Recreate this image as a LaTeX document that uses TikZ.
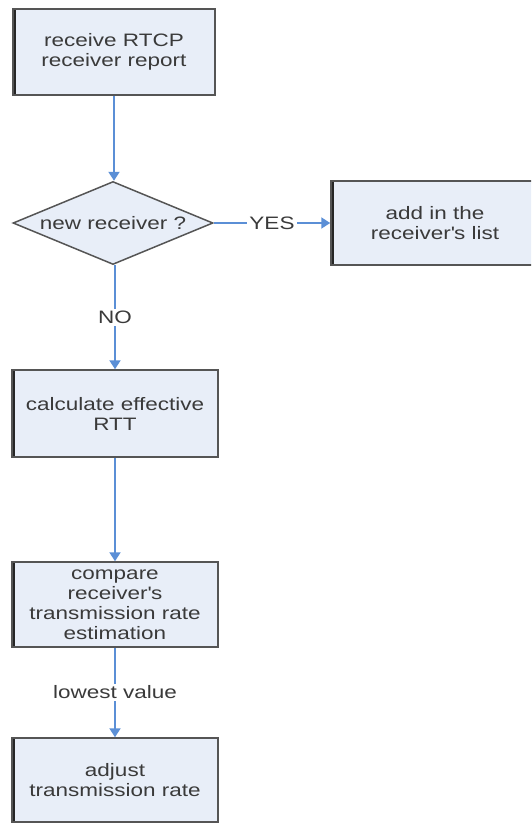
\documentclass[tikz,border=0pt]{standalone}
\usepackage{fontspec}
\setmainfont{Liberation Sans}[FakeStretch=1.25]
\usetikzlibrary{shapes.geometric,arrows.meta}
\definecolor{boxfill}{HTML}{E8EEF8}
\definecolor{boxline}{HTML}{555555}
\definecolor{arrowblue}{HTML}{5B8FD6}
\definecolor{txt}{HTML}{3A3A3A}
\tikzset{
  every node/.style={text=txt, font=\fontsize{18}{20}\selectfont},
  procbox/.style={draw=boxline, line width=1.5pt, fill=boxfill, align=center,
    inner sep=0pt,
    path picture={\draw[line width=5pt, black!85] (path picture bounding box.north west) -- (path picture bounding box.south west);}},
  decision/.style={draw=boxline, line width=1.5pt, fill=boxfill, diamond, inner sep=0pt},
  flow/.style={draw=arrowblue, line width=2pt, -{Triangle[width=11pt,length=9pt]}},
  flowlabel/.style={fill=white, inner sep=2pt}
}
\begin{document}
\begin{tikzpicture}[x=1pt, y=-1pt]
\useasboundingbox (0,0) rectangle (531,823);
\clip (0,0) rectangle (531,823);
\node[procbox, minimum width=202pt, minimum height=86pt] (b1) at (114,52) {receive RTCP\\receiver report};
\node[decision, minimum width=200pt, minimum height=83pt] (d) at (113,223) {};
\node (dt) at (d.center) {new receiver ?};
\node[procbox, minimum width=208pt, minimum height=84pt] (b2) at (435,223) {add in the\\receiver\textquotesingle s list};
\node[procbox, minimum width=206pt, minimum height=87pt] (b3) at (115,413.5) {calculate effective\\RTT};
\node[procbox, minimum width=206pt, minimum height=85pt] (b4) at (115,604.5) {compare\\receiver\textquotesingle s\\transmission rate\\estimation};
\node[procbox, minimum width=206pt, minimum height=84pt] (b5) at (115,780) {adjust\\transmission rate};
\draw[flow] (b1.south) -- (b1.south |- d.north);
\draw[flow] (d.east) -- node[flowlabel, pos=0.5] (yes) {YES} (b2.west);
\draw[flow] (d.south -| b3.north) -- node[flowlabel, pos=0.5] (no) {NO} (b3.north);
\draw[flow] (b3.south) -- (b4.north);
\draw[flow] (b4.south) -- node[flowlabel, pos=0.5] (low) {lowest value} (b5.north);
\end{tikzpicture}
\end{document}
